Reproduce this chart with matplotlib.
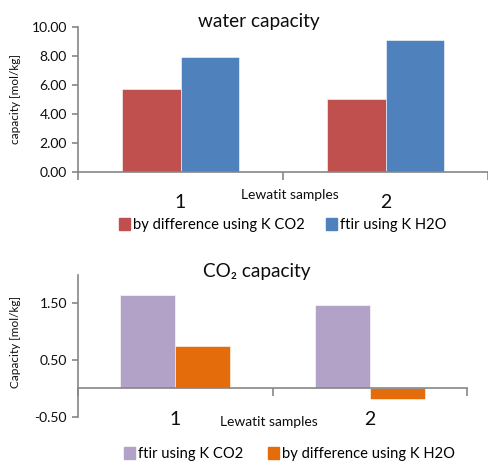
import matplotlib
matplotlib.use("Agg")
import matplotlib.pyplot as plt
import numpy as np
from matplotlib.patches import Patch

plt.rcParams['font.family'] = ['Lato', 'Noto Sans', 'DejaVu Sans']

samples = ["1", "2"]

water_series = ["by difference using K CO2", "ftir using K H2O"]
water_by_difference = [5.72, 5.01]
water_ftir = [7.91, 9.08]
water_colors = ["#C0504D", "#4F81BD"]
water_yticks = [0, 2, 4, 6, 8, 10]

co2_series = ["ftir using K CO2", "by difference using K H2O"]
co2_ftir = [1.65, 1.47]
co2_by_difference = [0.75, -0.19]
co2_colors = ["#B3A2C7", "#E46C0A"]
co2_yticks = [-0.5, 0.5, 1.5]

W, H = 488, 462
fig = plt.figure(figsize=(W / 100, H / 100), dpi=100)
fig.patch.set_facecolor("white")

AXIS_GRAY = "#868686"
TEXT = "#0d0d0d"


def px_axes(left, right, top, bottom):
    return fig.add_axes([left / W, 1 - bottom / H, (right - left) / W, (bottom - top) / H])


def style_axes(ax, ylim, yticks, fmt):
    n = len(samples)
    ax.set_xlim(0, n)
    ax.set_ylim(*ylim)
    for s in ("top", "right"):
        ax.spines[s].set_visible(False)
    for s in ("left", "bottom"):
        ax.spines[s].set_color(AXIS_GRAY)
        ax.spines[s].set_linewidth(1.2)
    ax.spines["bottom"].set_position(("data", 0))
    ax.set_yticks(yticks)
    ax.set_yticklabels([fmt.format(v) for v in yticks], fontsize=10, color=TEXT)
    ax.tick_params(axis="y", direction="out", length=4, width=1.2, color=AXIS_GRAY, pad=4)
    # category boundaries as major ticks, sample names at category centres
    ax.set_xticks(np.arange(0, n + 1))
    ax.set_xticklabels([])
    ax.tick_params(axis="x", which="major", direction="out", length=6, width=1.2, color=AXIS_GRAY)
    ax.set_xticks(np.arange(n) + 0.5, minor=True)
    ax.set_xticklabels(samples, minor=True, fontsize=14, color=TEXT)
    ax.tick_params(axis="x", which="minor", length=0, pad=16)


def draw_bars(ax, first, second, colors):
    x = np.arange(len(samples)) + 0.5
    w = 0.283
    ax.bar(x - w / 2, first, w, color=colors[0], edgecolor="white", linewidth=0.4)
    ax.bar(x + w / 2, second, w, color=colors[1], edgecolor="white", linewidth=0.4)


# water capacity
ax1 = px_axes(78, 488, 27, 172)
draw_bars(ax1, water_by_difference, water_ftir, water_colors)
style_axes(ax1, (0, 10), water_yticks, "{:.2f}")
fig.text(259 / W, 1 - 21 / H, "water capacity", ha="center", va="center", fontsize=13.7, color=TEXT)
fig.text(290 / W, 1 - 195 / H, "Lewatit samples", ha="center", va="center", fontsize=10, color=TEXT)
fig.text(16 / W, 1 - 99 / H, "capacity [mol/kg]", ha="center", va="center", rotation=90, fontsize=8.5, color=TEXT)
fig.legend(handles=[Patch(color=c, label=l) for c, l in zip(water_colors, water_series)],
           loc="center left", bbox_to_anchor=(119 / W, 1 - 225 / H), ncol=2, frameon=False,
           fontsize=10.6, handlelength=0.75, handleheight=0.9, handletextpad=0.2,
           columnspacing=1.45, borderaxespad=0, borderpad=0)

# CO2 capacity
ax2 = px_axes(78, 467, 275, 416.7)
draw_bars(ax2, co2_ftir, co2_by_difference, co2_colors)
style_axes(ax2, (-0.5, 2.0), co2_yticks, "{:.2f}")
fig.text(257 / W, 1 - 271 / H, "CO\u2082 capacity", ha="center", va="center", fontsize=13.7, color=TEXT)
fig.text(269 / W, 1 - 422 / H, "Lewatit samples", ha="center", va="center", fontsize=10, color=TEXT)
fig.text(16 / W, 1 - 342 / H, "Capacity [mol/kg]", ha="center", va="center", rotation=90, fontsize=8.5, color=TEXT)
fig.legend(handles=[Patch(color=c, label=l) for c, l in zip(co2_colors, co2_series)],
           loc="center left", bbox_to_anchor=(124 / W, 1 - 454 / H), ncol=2, frameon=False,
           fontsize=10.6, handlelength=0.75, handleheight=0.9, handletextpad=0.2,
           columnspacing=1.65, borderaxespad=0, borderpad=0)

fig.savefig("out.png", dpi=100)
